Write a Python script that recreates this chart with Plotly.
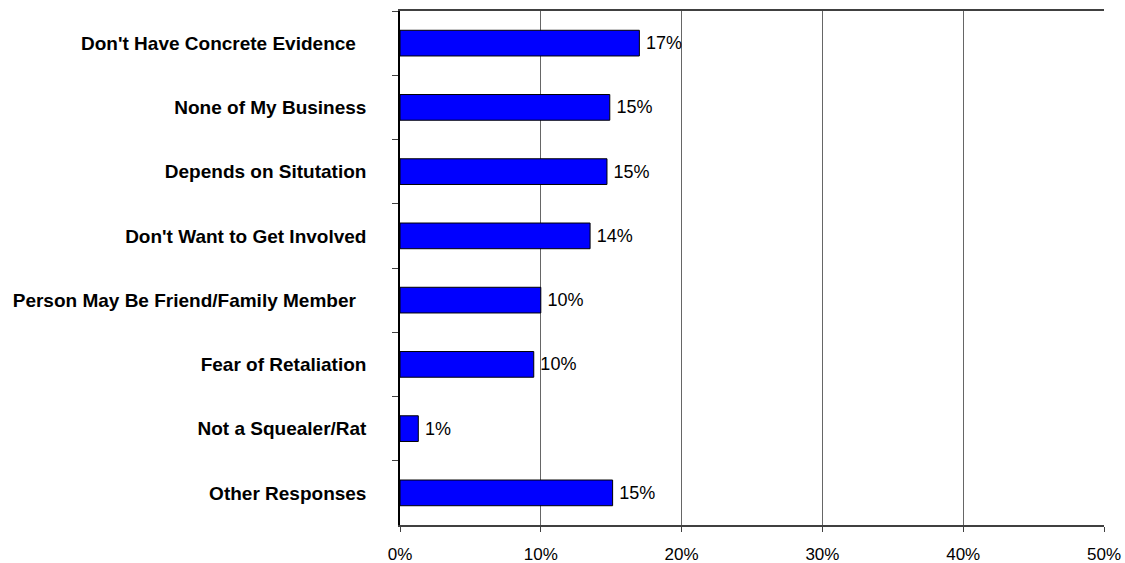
import plotly.graph_objects as go

# Survey responses: reasons for not reporting
reasons = [
    "Don't Have Concrete Evidence\u00a0\u00a0",
    "None of My Business",
    "Depends on Situtation",
    "Don't Want to Get Involved",
    "Person May Be Friend/Family Member\u00a0\u00a0",
    "Fear of Retaliation",
    "Not a Squealer/Rat",
    "Other Responses",
]
shares_pct = [17.0, 14.9, 14.7, 13.5, 10.0, 9.5, 1.3, 15.1]

x_ticks = [0, 10, 20, 30, 40, 50]
x_tick_text = ["0%", "10%", "20%", "30%", "40%", "50%"]

fig = go.Figure(
    go.Bar(
        x=shares_pct,
        y=reasons,
        orientation="h",
        width=0.4,
        marker=dict(color="#0000FF", line=dict(color="#000000", width=1)),
        texttemplate="\u2009%{x:.0f}%",
        textposition="outside",
        textfont=dict(family="Liberation Sans, Arial, sans-serif", size=18, color="#000000"),
        cliponaxis=False,
    )
)

fig.update_layout(
    width=1125,
    height=563,
    margin=dict(l=400, r=21, t=11, b=38),
    plot_bgcolor="#FFFFFF",
    paper_bgcolor="#FFFFFF",
    showlegend=False,
    bargap=0.6,
    font=dict(family="Liberation Sans, Arial, sans-serif", color="#000000"),
)

fig.update_xaxes(
    range=[0, 50],
    tickvals=x_ticks,
    ticktext=x_tick_text,
    showgrid=True,
    gridcolor="#666666",
    gridwidth=1,
    showline=True,
    linecolor="#404040",
    linewidth=1.5,
    mirror=True,
    ticks="outside",
    ticklen=5,
    tickcolor="#404040",
    tickfont=dict(size=17, color="#000000"),
    ticklabelstandoff=8,
    zeroline=False,
    automargin=False,
    fixedrange=True,
)

fig.update_yaxes(
    autorange="reversed",
    showline=True,
    linecolor="#000000",
    linewidth=1.5,
    ticks="outside",
    tickson="boundaries",
    ticklen=6,
    tickcolor="#404040",
    tickfont=dict(size=19, color="#000000", weight="bold"),
    ticklabelstandoff=28,
    showgrid=False,
    automargin=False,
    fixedrange=True,
)

fig.write_html("out.html")
